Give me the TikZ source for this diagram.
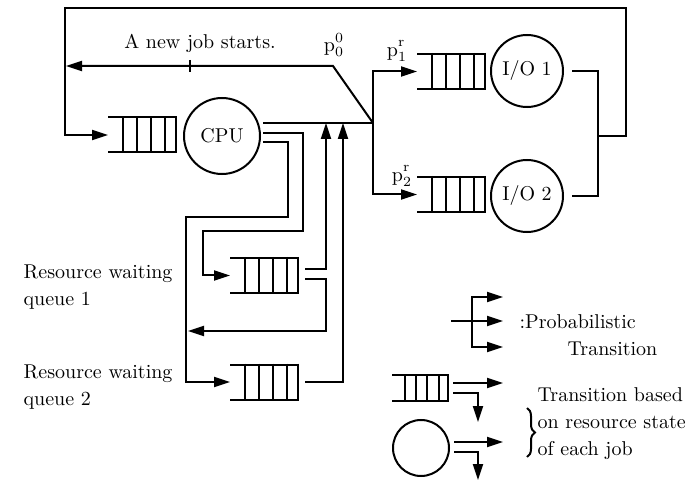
\documentclass[tikz,border=0pt]{standalone}
\usetikzlibrary{arrows.meta,calc,decorations.pathreplacing}
\tikzset{
  >={Triangle[length=8pt,width=5pt]},
  queue/.style={minimum width=34.5pt,minimum height=18.5pt,inner sep=0pt,outer sep=0pt,
    path picture={
      \draw ([yshift=-.5pt]path picture bounding box.north west) -- ([yshift=-.5pt]path picture bounding box.north east);
      \draw ([yshift=.5pt]path picture bounding box.south west) -- ([yshift=.5pt]path picture bounding box.south east);
      \foreach \f in {0.22,0.42,0.62,0.82}
        \draw ($(path picture bounding box.north west)!\f!(path picture bounding box.north east)$)
          -- ($(path picture bounding box.south west)!\f!(path picture bounding box.south east)$);
      \draw ([xshift=-.5pt]path picture bounding box.north east) -- ([xshift=-.5pt]path picture bounding box.south east);
    }},
  station/.style={draw,circle,minimum size=36pt,inner sep=0pt},
  txt/.style={align=left,font=\fontsize{10}{13.5}\selectfont},
}
\newcommand{\upr}[1]{^{\raisebox{1.2pt}{$\scriptstyle #1$}}}
\begin{document}
\begin{tikzpicture}[x=0.5pt,y=-0.5pt,line width=1pt]
        \useasboundingbox (0,0) rectangle (697,481);
        \node[queue] (cpuq) at (142.5,135) {};
        \node[station,minimum size=38pt] (cpu) at (222,136) {CPU};
        \node[queue] (ioaq) at (451.5,71.5) {};
        \node[station] (ioa) at (527,71) {I/O 1};
        \node[queue] (iobq) at (451.5,194.5) {};
        \node[station] (iob) at (527,196) {I/O 2};
        \node[queue] (rqa) at (264.5,275.5) {};
        \node[queue] (rqb) at (264.5,382) {};
        \coordinate (fork) at (373,123);
        \coordinate (bend) at (333,66);
        \coordinate (home) at (66,66);
        \coordinate (merge) at (598,136);
        \coordinate (tr) at (626,8);
        \coordinate (tl) at (65,8);
        \coordinate (upa) at (326,123);
        \coordinate (upb) at (343,123);
        \draw ([xshift=4pt]ioa.east) -| (merge);
        \draw ([xshift=4pt]iob.east) -| (merge);
        \draw[->] (merge) -| (tr) -- (tl) |- (cpuq.west);
        \draw ([shift={(2,-13)}]cpu.east) -- (fork);
        \draw[->] (fork) -- (bend) -- (home);
        \draw (190,60) -- (190,72);
        \draw[->] (fork) |- (ioaq.west);
        \draw[->] (fork) |- (iobq.west);
        \draw[->] ([shift={(2,-3)}]cpu.east) -| (303,231) -- (203,231) |- (rqa.west);
        \draw[->] ([shift={(2,6)}]cpu.east) -| (288,217) -- (186,217) |- (rqb.west);
        \draw[->] ([shift={(6,-6.5)}]rqa.east) -| (upa);
        \draw[->] ([shift={(6,3.5)}]rqa.east) -| (326,331) -- (188,331);
        \draw[->] ([shift={(6,0)}]rqb.east) -| (upb);
        \node at (200,43) {A new job starts.};
        \node at (334,45) {$\mathrm{p}_0\upr{0}$};
        \node at (397,51) {$\mathrm{p}_1\upr{\mathrm{r}}$};
        \node at (402,176) {$\mathrm{p}_2\upr{\mathrm{r}}$};
        \node[txt,anchor=west] at (16,287.5) {Resource waiting\\queue 1};
        \node[txt,anchor=west] at (16,387.5) {Resource waiting\\queue 2};
        % legend
        \coordinate (pin) at (451,321);
        \coordinate (pfork) at (472,321);
        \draw (pin) -- (pfork);
        \draw[->] (pfork) |- (503,297);
        \draw[->] (pfork) -- (503,321);
        \draw[->] (pfork) |- (503,347);
        \node[txt,anchor=west] at (512,335) {:Probabilistic\\\hspace*{24pt}Transition};
        \node[queue,minimum width=28.5pt,minimum height=14pt] (lq) at (420.5,388) {};
        \node[station,minimum size=28pt] (lc) at (421,448) {};
        \draw[->] ([shift={(4,-5)}]lq.east) -- (503,383);
        \draw[->] ([shift={(4,5)}]lq.east) -| (478,422);
        \draw[->] ([shift={(4,-6)}]lc.east) -- (503,442);
        \draw[->] ([shift={(4,4)}]lc.east) -| (478,480);
        \draw[decorate,decoration={brace,amplitude=4pt}] (527,408) -- (527,457);
        \node[txt,anchor=west] at (530,424) {Transition based\\on resource state\\of each job};
    \end{tikzpicture}
\end{document}
